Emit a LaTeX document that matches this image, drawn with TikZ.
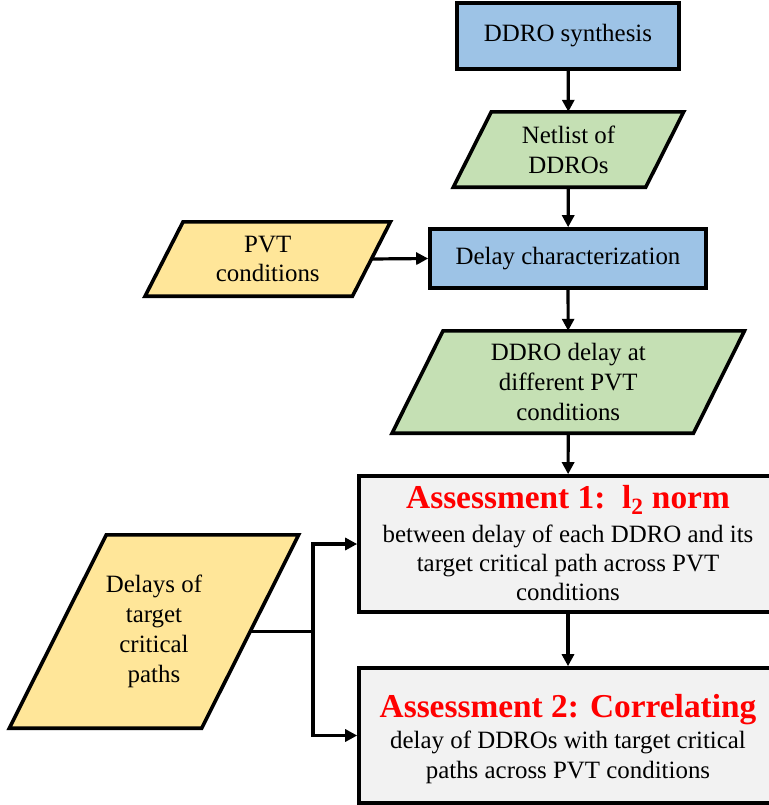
\documentclass[tikz,border=0pt]{standalone}
\usepackage{fontspec}
\setmainfont{Liberation Serif}
\usetikzlibrary{arrows.meta,backgrounds}

\definecolor{procblue}{RGB}{157,195,230}
\definecolor{datagreen}{RGB}{197,224,180}
\definecolor{datayellow}{RGB}{255,230,153}
\definecolor{assessgray}{RGB}{242,242,242}
\definecolor{glow}{RGB}{205,220,240}

\tikzset{
  x=1bp, y=-1bp,
  every node/.style={font=\fontsize{25}{30}\selectfont, align=center, inner sep=0pt},
  procbox/.style={draw, line width=3.6bp, fill=procblue},
  assessbox/.style={draw, line width=3.6bp, fill=assessgray},
  iobox/.style={draw=none},
  flow/.style={line width=3.2bp, -{Triangle[length=12bp,width=12bp]}},
  link/.style={line width=3.2bp},
  heading/.style={font=\fontsize{33.5}{36}\bfseries\selectfont, text=red, anchor=base},
  bodyline/.style={anchor=base},
}

% parallelogram drawn around an invisible node: #1 node, #2 half slant, #3 fill
\newcommand{\iofill}[3]{%
  \begin{scope}[on background layer]
    \fill[glow, opacity=0.6, shift={(2,3)}]
      ([xshift=#2 bp]#1.north west) -- ([xshift=#2 bp]#1.north east) --
      ([xshift=-#2 bp]#1.south east) -- ([xshift=-#2 bp]#1.south west) -- cycle;
    \draw[line width=3.6bp, fill=#3, line join=miter]
      ([xshift=#2 bp]#1.north west) -- ([xshift=#2 bp]#1.north east) --
      ([xshift=-#2 bp]#1.south east) -- ([xshift=-#2 bp]#1.south west) -- cycle;
  \end{scope}}

\begin{document}
\begin{tikzpicture}
\useasboundingbox (0,0) rectangle (769,805);

% process boxes
\node[procbox, minimum width=222bp, minimum height=66bp] (synth) at (568,36) {DDRO synthesis};
\node[procbox, minimum width=276bp, minimum height=59bp] (dchar) at (568,258.5) {Delay characterization};

% data (parallelogram) nodes
\node[iobox, minimum width=192bp, minimum height=75bp] (netlist) at (568.5,149.5) {Netlist of\\DDROs};
\node[iobox, minimum width=207bp, minimum height=74bp] (pvt) at (267.75,259) {PVT\\conditions};
\node[iobox, minimum width=301bp, minimum height=102bp] (ddelay) at (568.25,382) {DDRO delay at\\different PVT\\conditions};
\node[iobox, minimum width=192bp, minimum height=193bp] (tdelay) at (154,631.5) {Delays of\\target\\critical\\paths};

\iofill{netlist}{19}{datagreen}
\iofill{pvt}{19}{datayellow}
\iofill{ddelay}{25.5}{datagreen}
\iofill{tdelay}{48.5}{datayellow}

% assessment boxes
\node[assessbox, minimum width=418bp, minimum height=136bp] (a1) at (568,544) {};
\node[heading] (a1h) at (568,508) {Assessment 1:\ \ l\textsubscript{2} norm};
\node[bodyline] (a1l1) at (568,542) {between delay of each DDRO and its};
\node[bodyline] (a1l2) at (568,571) {target critical path across PVT};
\node[bodyline] (a1l3) at (568,600) {conditions};

\node[assessbox, minimum width=418bp, minimum height=135bp] (a2) at (568,735.5) {};
\node[heading] (a2h) at (568,717) {Assessment 2: Correlating};
\node[bodyline] (a2l1) at (568,748) {delay of DDROs with target critical};
\node[bodyline] (a2l2) at (568,778) {paths across PVT conditions};

% connectors
\draw[flow] (synth) -- (netlist);
\draw[flow] (netlist) -- (dchar);
\draw[flow] (pvt.east) -- (dchar.west);
\draw[flow] (dchar) -- (ddelay);
\draw[flow] (ddelay) -- (a1);
\draw[flow] (a1) -- (a2);
\coordinate (split) at (313,631.5);
\draw[link] (tdelay.east) -- (split);
\draw[flow] (split) |- (a1.west);
\draw[flow] (split) |- (a2.west);
\end{tikzpicture}
\end{document}
